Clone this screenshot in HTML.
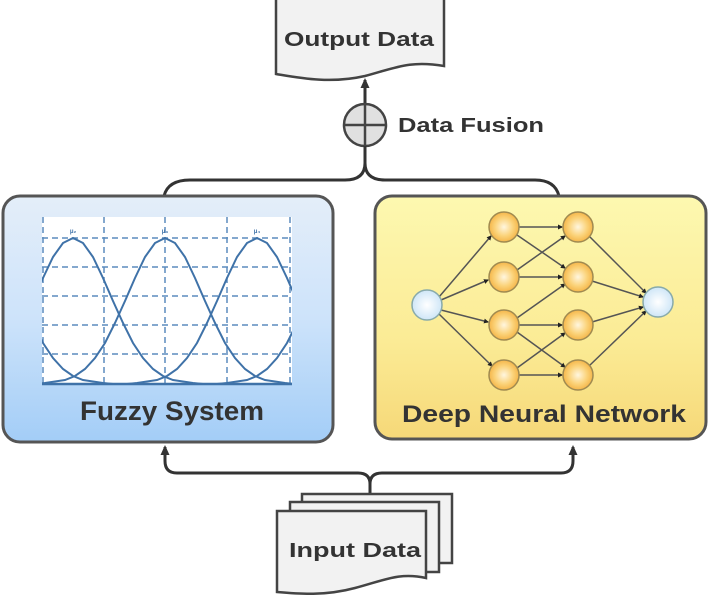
<!DOCTYPE html>
<html><head><meta charset="utf-8"><style>
html,body{margin:0;padding:0;background:#fff;width:710px;height:599px;overflow:hidden}
text{font-family:"Liberation Sans",sans-serif;font-weight:bold;fill:#333}
</style></head><body>
<svg width="710" height="599" viewBox="0 0 710 599" xmlns="http://www.w3.org/2000/svg">
<defs>
<linearGradient id="gb" x1="0" y1="0" x2="0" y2="1"><stop offset="0" stop-color="#e4eef9"/><stop offset="0.5" stop-color="#cde3fa"/><stop offset="1" stop-color="#a3cdf7"/></linearGradient>
<linearGradient id="gy" x1="0" y1="0" x2="0" y2="1"><stop offset="0" stop-color="#fdf8b0"/><stop offset="0.6" stop-color="#fbeb95"/><stop offset="1" stop-color="#f6d878"/></linearGradient>
<radialGradient id="go" cx="0.5" cy="0.5" r="0.5"><stop offset="0" stop-color="#fff6df"/><stop offset="0.6" stop-color="#fbd37a"/><stop offset="1" stop-color="#f5b64a"/></radialGradient>
<radialGradient id="gw" cx="0.5" cy="0.5" r="0.5"><stop offset="0" stop-color="#ffffff"/><stop offset="1" stop-color="#cfe6f7"/></radialGradient>
<marker id="ar" markerWidth="10" markerHeight="10" refX="8" refY="5" orient="auto" markerUnits="userSpaceOnUse"><path d="M0,0.5 L10,5 L0,9.5 z" fill="#333"/></marker>
<marker id="ab" markerWidth="5" markerHeight="5" refX="4" refY="2.5" orient="auto" markerUnits="userSpaceOnUse"><path d="M0,0 L5,2.5 L0,5 z" fill="#222"/></marker>
<clipPath id="cc"><rect x="42" y="217" width="250" height="168"/></clipPath>
<polyline id="g" fill="none" stroke="#3f72a8" stroke-width="2" points="-130,384 -120,383 -100,380 -90,376 -80,369 -70,358 -60,343 -50,323 -40,301 -30,278 -20,257 -10,243 0,238 10,243 20,257 30,278 40,301 50,323 60,343 70,358 80,369 90,376 100,380 120,383 130,384"/>
</defs>

<path d="M276,-2 H444 V66 C410,60 395,68 365,76 C330,84 300,78 276,74 Z" fill="#f2f2f2" stroke="#444" stroke-width="2.5"/>
<text x="359" y="46" font-size="20" text-anchor="middle" textLength="150" lengthAdjust="spacingAndGlyphs">Output Data</text>

<line x1="365" y1="104" x2="365" y2="80" stroke="#333" stroke-width="3" marker-end="url(#ar)"/>
<circle cx="365" cy="125" r="21" fill="#e0e0e0" stroke="#444" stroke-width="2.5"/>
<line x1="344" y1="125" x2="386" y2="125" stroke="#444" stroke-width="2.5"/>
<line x1="365" y1="104" x2="365" y2="146" stroke="#444" stroke-width="2.5"/>
<text x="398" y="132" font-size="20" textLength="146" lengthAdjust="spacingAndGlyphs">Data Fusion</text>
<path d="M365,146 V163 Q365,180 345,180 H190 Q168,180 164,196 M365,163 Q365,180 385,180 H535 Q555,180 559,196" fill="none" stroke="#333" stroke-width="3"/>

<rect x="3" y="196" width="330" height="246" rx="17" fill="url(#gb)" stroke="#555" stroke-width="3"/>
<rect x="42" y="217" width="250" height="168" fill="#fff"/>
<g stroke="#5b8bbd" stroke-width="1.5" stroke-dasharray="6,4" fill="none">
<line x1="43" y1="217" x2="43" y2="384"/><line x1="104" y1="217" x2="104" y2="384"/><line x1="165" y1="217" x2="165" y2="384"/><line x1="227" y1="217" x2="227" y2="384"/><line x1="290" y1="217" x2="290" y2="384"/>
<line x1="42" y1="238" x2="292" y2="238"/><line x1="42" y1="267" x2="292" y2="267"/><line x1="42" y1="296" x2="292" y2="296"/><line x1="42" y1="325" x2="292" y2="325"/><line x1="42" y1="354" x2="292" y2="354"/>
</g>
<g clip-path="url(#cc)">
<use href="#g" x="-17"/><use href="#g" x="73"/><use href="#g" x="165"/><use href="#g" x="257"/><use href="#g" x="347"/>
</g>
<line x1="42" y1="384" x2="292" y2="384" stroke="#3f72a8" stroke-width="2.5"/>
<text x="73" y="233" font-size="6" text-anchor="middle" style="fill:#3f72a8">μ₂</text>
<text x="165" y="233" font-size="6" text-anchor="middle" style="fill:#3f72a8">μ₃</text>
<text x="257" y="233" font-size="6" text-anchor="middle" style="fill:#3f72a8">μ₄</text>
<text x="172" y="420" font-size="27" text-anchor="middle" textLength="184" lengthAdjust="spacingAndGlyphs">Fuzzy System</text>

<rect x="375" y="196" width="331" height="243" rx="17" fill="url(#gy)" stroke="#555" stroke-width="3"/>
<g stroke="#555" stroke-width="1.5" marker-end="url(#ab)">
<line x1="439" y1="297" x2="491" y2="236"/>
<line x1="441" y1="300" x2="488" y2="280"/>
<line x1="441" y1="310" x2="488" y2="322"/>
<line x1="439" y1="314" x2="492" y2="366"/>
<line x1="519" y1="227" x2="562" y2="227"/>
<line x1="517" y1="235" x2="565" y2="268"/>
<line x1="517" y1="270" x2="565" y2="236"/>
<line x1="519" y1="277" x2="562" y2="277"/>
<line x1="517" y1="318" x2="565" y2="284"/>
<line x1="519" y1="325" x2="562" y2="325"/>
<line x1="517" y1="332" x2="565" y2="367"/>
<line x1="517" y1="368" x2="565" y2="333"/>
<line x1="519" y1="375" x2="562" y2="375"/>
<line x1="589" y1="236" x2="646" y2="293"/>
<line x1="592" y1="281" x2="643" y2="297"/>
<line x1="592" y1="322" x2="643" y2="307"/>
<line x1="589" y1="366" x2="646" y2="311"/>
</g>
<g stroke="#a08a50" stroke-width="1.5" fill="url(#go)">
<circle cx="504" cy="227" r="15"/><circle cx="504" cy="277" r="15"/><circle cx="504" cy="325" r="15"/><circle cx="504" cy="375" r="15"/>
<circle cx="578" cy="227" r="15"/><circle cx="578" cy="277" r="15"/><circle cx="578" cy="325" r="15"/><circle cx="578" cy="375" r="15"/>
</g>
<circle cx="427" cy="305" r="15" fill="url(#gw)" stroke="#8aa" stroke-width="1.5"/>
<circle cx="658" cy="302" r="15" fill="url(#gw)" stroke="#8aa" stroke-width="1.5"/>
<text x="544" y="422" font-size="24" text-anchor="middle" textLength="284" lengthAdjust="spacingAndGlyphs">Deep Neural Network</text>

<path d="M370,493 V484 Q370,473 358,473 H177 Q165,473 165,461 V447" fill="none" stroke="#333" stroke-width="3" marker-end="url(#ar)"/>
<path d="M370,484 Q370,473 382,473 H561 Q573,473 573,461 V447" fill="none" stroke="#333" stroke-width="3" marker-end="url(#ar)"/>

<rect x="302" y="494" width="150" height="69" fill="#f2f2f2" stroke="#444" stroke-width="2.5"/>
<rect x="290" y="502" width="149" height="70" fill="#f2f2f2" stroke="#444" stroke-width="2.5"/>
<path d="M277,511 H426 V578 C400,572 385,580 355,588 C325,596 300,594 277,592 Z" fill="#f2f2f2" stroke="#444" stroke-width="2.5"/>
<text x="355" y="557" font-size="20" text-anchor="middle" textLength="132" lengthAdjust="spacingAndGlyphs">Input Data</text>
</svg>
</body></html>
